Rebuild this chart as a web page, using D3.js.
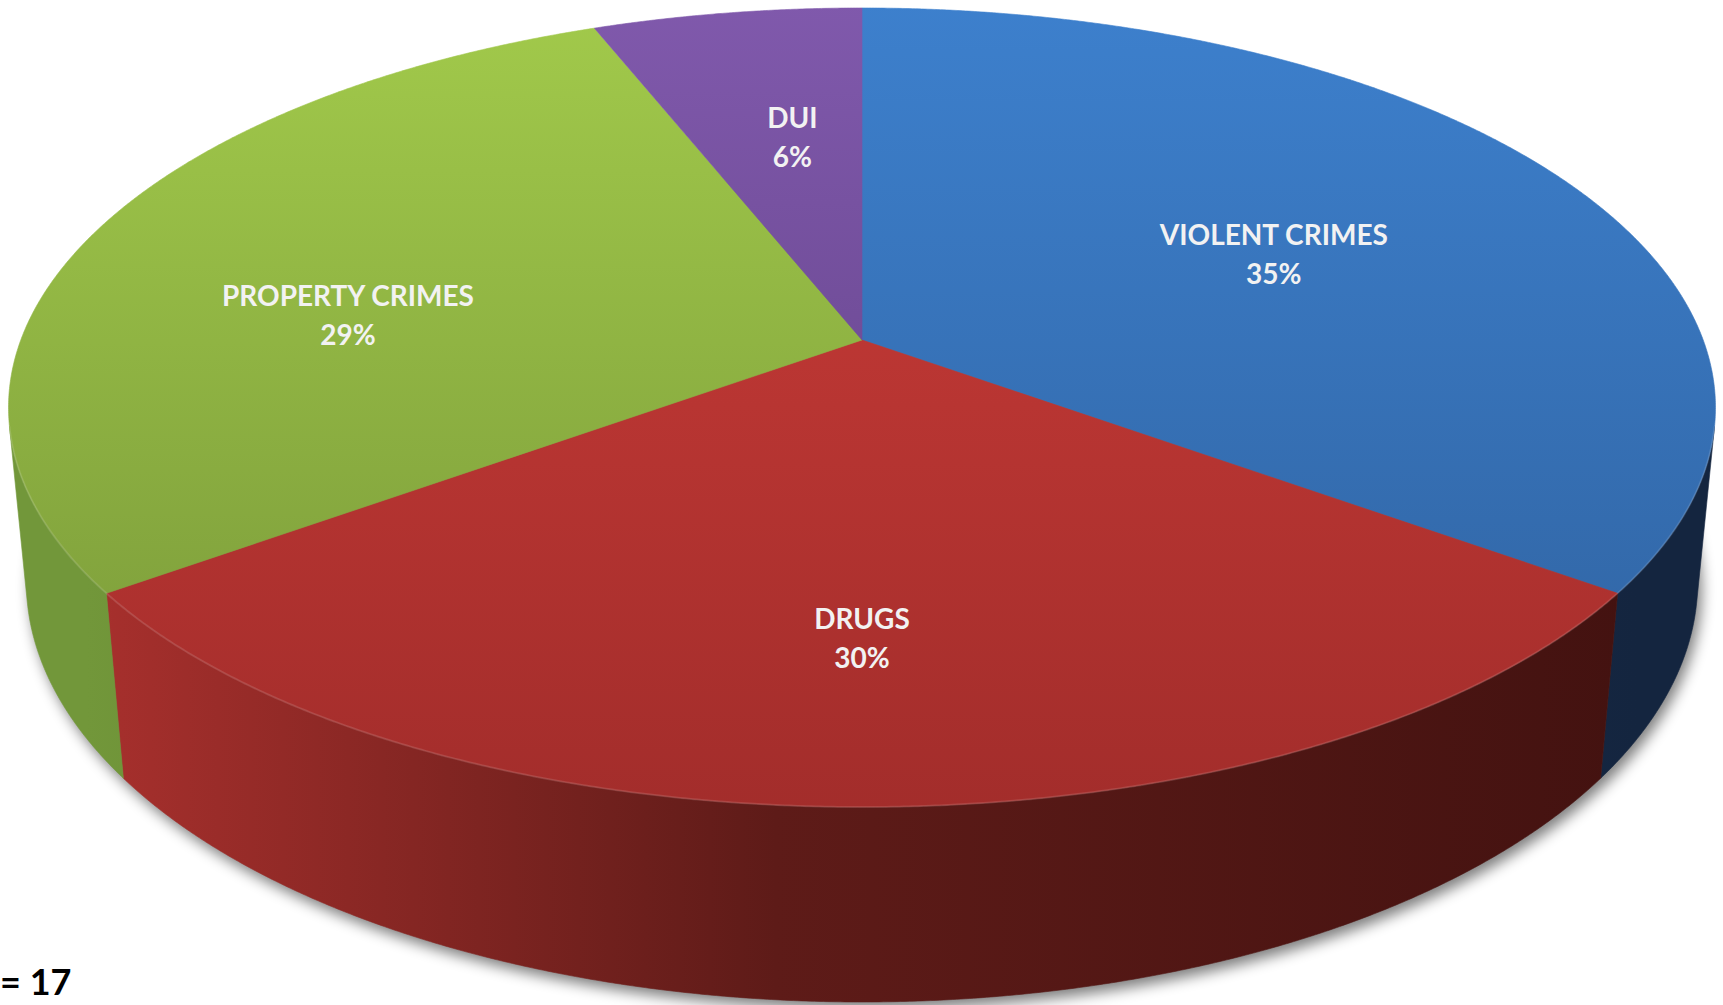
<!DOCTYPE html>
<html>
<head>
<meta charset="utf-8">
<script src="https://cdn.jsdelivr.net/npm/d3@7"></script>
<style>
  html, body { margin: 0; padding: 0; background: #ffffff; }
  svg { display: block; }
  text { font-family: Lato, "Open Sans", sans-serif; }
</style>
</head>
<body>
<svg id="chart" width="1723" height="1005"></svg>
<script>
// ---------------- data ----------------
const categories    = ["VIOLENT CRIMES", "DRUGS", "PROPERTY CRIMES", "DUI"];
const values        = [35, 30, 29, 6];
const percentLabels = ["35%", "30%", "29%", "6%"];
const footnote      = "= 17";

// ---------------- styles ----------------
const topLight  = ["#3D80CD", "#CD3D39", "#A2CA4B", "#8059AC"];
const topDark   = ["#2F619E", "#A32D2B", "#779638", "#5C3D80"];
const sideLeft  = ["#2B5083", "#A8302D", "#72973A", "#4B3268"];
const sideMid   = ["#1C355A", "#5E1B18", "#56722A", "#35234A"];
const sideRight = ["#14253F", "#431210", "#3E531E", "#271936"];

// ---------------- layout / camera ----------------
const W = 1723, H = 1005;
const cx = 862, cy = 340;          // projected pie centre (top face)
const A = 841.2;                   // focal * R / L
const sinP = 0.4614, cosP = Math.sqrt(1 - sinP * sinP);
const RL = 0.1905;                 // R / L
const thick = 0.2354;              // thickness / R
// label anchors: angle (deg, clockwise from back) and radius fraction
const labelAnchor = [
  { angle: 65.7,  r: 0.558 },
  { angle: 180.0, r: 0.680 },
  { angle: 275.9, r: 0.621 },
  { angle: 351.0, r: 0.580 }
];

function project(alpha, r, h) {
  const xw = r * Math.sin(alpha), zw = -r * Math.cos(alpha);
  const depth = 1 - RL * (h * sinP + zw * cosP);
  return [cx + A * xw / depth, cy - A * (h * cosP - zw * sinP) / depth];
}

const svg = d3.select("#chart");
const defs = svg.append("defs");

const color = d3.scaleOrdinal().domain(categories).range(d3.range(categories.length));

// gradients
categories.forEach((c, i) => {
  const g = defs.append("linearGradient").attr("id", "top" + i)
    .attr("gradientUnits", "userSpaceOnUse")
    .attr("x1", 0).attr("y1", 0).attr("x2", 0).attr("y2", 810);
  g.append("stop").attr("offset", 0).attr("stop-color", topLight[i]);
  g.append("stop").attr("offset", 1).attr("stop-color", topDark[i]);

  const s = defs.append("linearGradient").attr("id", "side" + i)
    .attr("gradientUnits", "userSpaceOnUse")
    .attr("x1", 0).attr("y1", 0).attr("x2", W).attr("y2", 0);
  s.append("stop").attr("offset", 0.05).attr("stop-color", sideLeft[i]);
  s.append("stop").attr("offset", 0.45).attr("stop-color", sideMid[i]);
  s.append("stop").attr("offset", 0.95).attr("stop-color", sideRight[i]);
});

const blur = defs.append("filter").attr("id", "shadow")
  .attr("x", "-10%").attr("y", "-10%").attr("width", "120%").attr("height", "130%");
blur.append("feGaussianBlur").attr("stdDeviation", 7);

const pie = d3.pie().sort(null).value(d => d)(values);
const line = d3.line();
const step = Math.PI / 720;

function arcPts(a0, a1, r, h) {
  const n = Math.max(2, Math.ceil(Math.abs(a1 - a0) / step));
  return d3.range(n + 1).map(k => project(a0 + (a1 - a0) * k / n, r, h));
}

// drop shadow under the base
const base = arcPts(0, 2 * Math.PI, 1, -thick).map(p => [p[0] + 4, p[1] + 7]);
svg.append("path").attr("d", line(base) + "Z")
  .attr("fill", "#000").attr("opacity", 0.5).attr("filter", "url(#shadow)");

// visible part of the cylinder wall
const cLim = RL / cosP;
const vis0 = Math.acos(-cLim), vis1 = 2 * Math.PI - vis0;

const sides = svg.append("g");
pie.forEach((d, i) => {
  const s = Math.max(d.startAngle, vis0), e = Math.min(d.endAngle, vis1);
  if (e <= s) return;
  const pts = arcPts(s, e, 1, 0).concat(arcPts(e, s, 1, -thick));
  sides.append("path").attr("d", line(pts) + "Z")
    .attr("fill", `url(#side${color(categories[i])})`)
    .attr("stroke", `url(#side${color(categories[i])})`).attr("stroke-width", 0.6);
});

// top faces
const tops = svg.append("g");
pie.forEach((d, i) => {
  const pts = [project(0, 0, 0)].concat(arcPts(d.startAngle, d.endAngle, 1, 0));
  tops.append("path").attr("d", line(pts) + "Z")
    .attr("fill", `url(#top${color(categories[i])})`)
    .attr("stroke", `url(#top${color(categories[i])})`).attr("stroke-width", 0.6)
    .attr("stroke-linejoin", "round");
});

// subtle rim highlight on the front edge
svg.append("path").attr("d", line(arcPts(vis0, vis1, 1, 0)))
  .attr("fill", "none").attr("stroke", "#ffffff").attr("stroke-opacity", 0.12).attr("stroke-width", 2);

// labels
const labels = svg.append("g").attr("fill", "#F2F2F2")
  .attr("font-weight", 700).attr("font-size", 28).attr("text-anchor", "middle");
categories.forEach((c, i) => {
  const la = labelAnchor[i];
  const [lx, ly] = project(la.angle * Math.PI / 180, la.r, 0);
  labels.append("text").attr("x", lx).attr("y", ly - 9.5).text(c);
  labels.append("text").attr("x", lx).attr("y", ly + 29.5).text(percentLabels[i]);
});

svg.append("text").attr("x", 0).attr("y", 995)
  .attr("font-weight", 700).attr("font-size", 36).attr("fill", "#000").text(footnote);
</script>
</body>
</html>
